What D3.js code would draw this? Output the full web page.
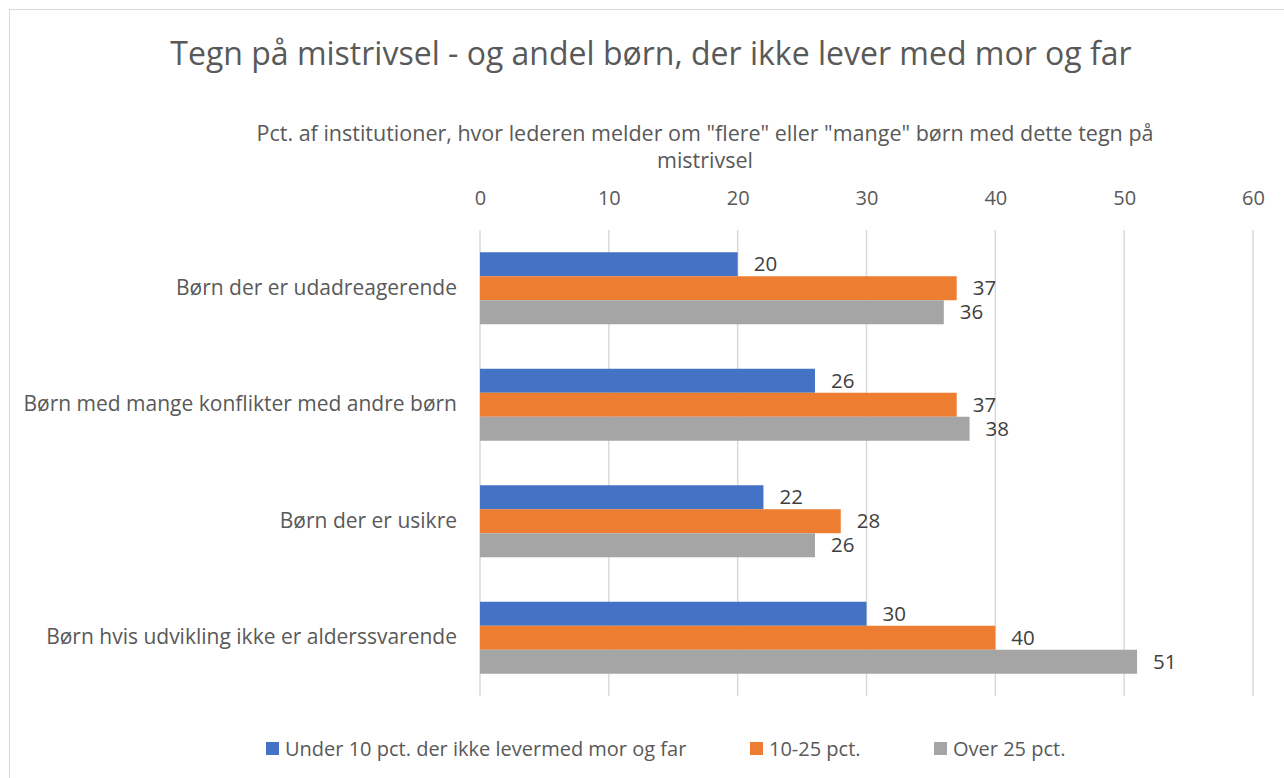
<!DOCTYPE html>
<html>
<head>
<meta charset="utf-8">
<script src="https://cdn.jsdelivr.net/npm/d3@7"></script>
<style>
  body { margin: 0; background: #fff; }
  text { font-family: "Open Sans", "Noto Sans", sans-serif; }
</style>
</head>
<body>
<div class="chart"></div>
<script>
// data
var categories = [
  "Børn der er udadreagerende",
  "Børn med mange konflikter med andre børn",
  "Børn der er usikre",
  "Børn hvis udvikling ikke er alderssvarende"
];
var seriesNames = ["Under 10 pct. der ikke levermed mor og far", "10-25 pct.", "Over 25 pct."];
var under10 = [20, 26, 22, 30];
var mid10to25 = [37, 37, 28, 40];
var over25 = [36, 38, 26, 51];
var xTicks = [0, 10, 20, 30, 40, 50, 60];
var colors = ["#4472C4", "#ED7D31", "#A5A5A5"];

var width = 1284, height = 778;
var font = '"Open Sans", "Noto Sans", sans-serif';
var svg = d3.select(".chart").append("svg").attr("width", width).attr("height", height);

// clipped heading fragment and chart border
svg.append("text").attr("x", 18).attr("y", -6).attr("font-weight", "bold")
  .attr("font-size", 22).attr("fill", "#000").text("Figur");
svg.append("rect").attr("x", 9.5).attr("y", 9.5).attr("width", 1300).attr("height", 800)
  .attr("fill", "none").attr("stroke", "#d9d9d9");

var plotLeft = 480, plotRight = 1253, plotTop = 230, plotBottom = 696;
var x = d3.scaleLinear().domain([0, 60]).range([plotLeft, plotRight]);
var y = d3.scaleBand().domain(categories).range([plotTop, plotBottom]).paddingInner(0.382).paddingOuter(0.191);
var ySub = d3.scaleBand().domain([0, 1, 2]).range([0, y.bandwidth()]);

// title
svg.append("text").attr("x", 651).attr("y", 65).attr("text-anchor", "middle")
  .attr("font-size", 32).attr("fill", "#595959")
  .text("Tegn på mistrivsel - og andel børn, der ikke lever med mor og far");

svg.append("text").attr("x", 705).attr("y", 141).attr("text-anchor", "middle")
  .attr("font-size", 21.5).attr("fill", "#595959")
  .text('Pct. af institutioner, hvor lederen melder om "flere" eller "mange" børn med dette tegn på');
svg.append("text").attr("x", 705).attr("y", 168).attr("text-anchor", "middle")
  .attr("font-size", 21.5).attr("fill", "#595959").text("mistrivsel");

// gridlines
svg.append("g").selectAll("line").data(xTicks).enter().append("line")
  .attr("x1", function(d) { return x(d); }).attr("x2", function(d) { return x(d); })
  .attr("y1", plotTop).attr("y2", plotBottom)
  .attr("stroke", "#d9d9d9").attr("stroke-width", 1.5);

// top axis
var xAxis = svg.append("g").attr("transform", "translate(0," + (plotTop - 25) + ")")
  .call(d3.axisTop(x).tickValues(xTicks).tickSize(0).tickPadding(0));
xAxis.select(".domain").remove();
xAxis.selectAll("text").attr("font-size", 20).attr("fill", "#595959").style("font-family", font);

// category axis
var yAxis = svg.append("g").attr("transform", "translate(" + (plotLeft - 23) + ",0)")
  .call(d3.axisLeft(y).tickSize(0).tickPadding(0));
yAxis.select(".domain").remove();
yAxis.selectAll("text").attr("font-size", 21).attr("fill", "#595959").style("font-family", font);

var series = [under10, mid10to25, over25];
series.forEach(function(vals, s) {
  var g = svg.append("g");
  g.selectAll("rect").data(vals).enter().append("rect")
    .attr("x", x(0))
    .attr("y", function(d, i) { return y(categories[i]) + ySub(s); })
    .attr("width", function(d) { return x(d) - x(0); })
    .attr("height", ySub.bandwidth())
    .attr("fill", colors[s]);
  g.selectAll("text").data(vals).enter().append("text")
    .attr("x", function(d) { return x(d) + 16; })
    .attr("y", function(d, i) { return y(categories[i]) + ySub(s) + ySub.bandwidth() / 2; })
    .attr("dy", "0.35em")
    .attr("font-size", 20.5).attr("fill", "#404040")
    .text(function(d) { return d; });
});

// legend
var legendX = [266, 750, 934];
var legend = svg.append("g").selectAll("g").data(seriesNames).enter().append("g")
  .attr("transform", function(d, i) { return "translate(" + legendX[i] + ",742)"; });
legend.append("rect").attr("width", 13).attr("height", 13)
  .attr("fill", function(d, i) { return colors[i]; });
legend.append("text").attr("x", 19).attr("y", 6.5).attr("dy", "0.35em")
  .attr("font-size", 20).attr("fill", "#595959")
  .text(function(d) { return d; });
</script>
</body>
</html>
